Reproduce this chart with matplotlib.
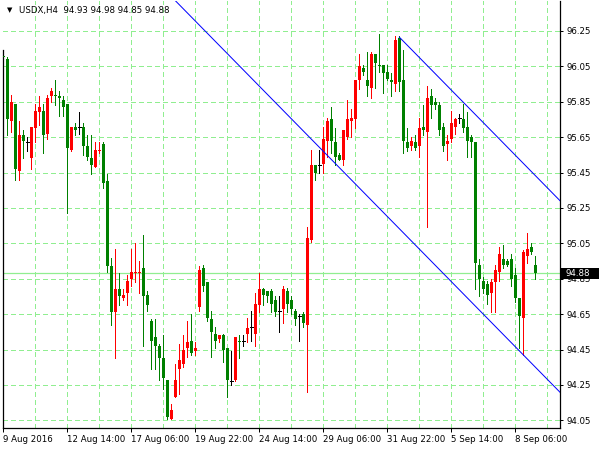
import numpy as np
import matplotlib
matplotlib.use('Agg')
import matplotlib.pyplot as plt
from matplotlib.patches import Rectangle

# USDX H4 candles (bar 0 = left edge)
opens = [96.11, 96.09, 95.74, 95.84, 95.46, 95.66, 95.62, 95.53, 95.70, 95.79,
         95.80, 95.67, 95.88, 95.89, 95.88, 95.86, 95.84, 95.58, 95.71, 95.71,
         95.71, 95.60, 95.53, 95.48, 95.57, 95.61, 95.40, 94.92, 94.66, 94.79,
         94.74, 94.77, 94.85, 94.88, 94.88, 94.91, 94.76, 94.61, 94.52, 94.47,
         94.40, 94.28, 94.06, 94.18, 94.34, 94.37, 94.46, 94.50, 94.44, 94.69,
         94.91, 94.83, 94.62, 94.54, 94.51, 94.53, 94.46, 94.27, 94.28, 94.50,
         94.50, 94.54, 94.58, 94.54, 94.70, 94.79, 94.78, 94.78, 94.73, 94.67,
         94.68, 94.78, 94.73, 94.67, 94.64, 94.65, 94.59, 95.07, 95.49, 95.49,
         95.50, 95.63, 95.75, 95.62, 95.55, 95.52, 95.65, 95.74, 95.75, 95.97,
         96.04, 95.97, 95.93, 96.12, 96.06, 96.06, 96.02, 95.97, 95.95, 96.21,
         95.97, 95.62, 95.60, 95.62, 95.60, 95.71, 95.68, 95.88, 95.85, 95.83,
         95.71, 95.61, 95.64, 95.71, 95.76, 95.75, 95.71, 95.65, 95.62, 94.93,
         94.84, 94.82, 94.77, 94.83, 94.89, 94.96, 94.95, 94.96, 94.87, 94.74,
         94.63, 94.98, 95.03, 94.93]
highs = [96.13, 96.10, 95.89, 95.84, 95.74, 95.69, 95.65, 95.71, 95.84, 95.88,
         95.84, 95.89, 95.93, 95.97, 95.91, 95.88, 95.84, 95.71, 95.73, 95.79,
         95.73, 95.66, 95.66, 95.62, 95.62, 95.62, 95.44, 94.97, 95.02, 94.88,
         94.79, 94.87, 95.02, 95.05, 94.95, 95.10, 94.78, 94.62, 94.62, 94.48,
         94.53, 94.28, 94.14, 94.37, 94.48, 94.53, 94.61, 94.65, 94.49, 94.92,
         94.93, 94.83, 94.67, 94.58, 94.53, 94.54, 94.46, 94.44, 94.52, 94.53,
         94.53, 94.63, 94.67, 94.77, 94.88, 94.80, 94.78, 94.79, 94.75, 94.75,
         94.81, 94.80, 94.75, 94.68, 94.65, 94.66, 95.14, 95.58, 95.49, 95.58,
         95.71, 95.76, 95.82, 95.70, 95.56, 95.69, 95.86, 95.81, 95.97, 96.12,
         96.06, 96.13, 96.13, 96.12, 96.23, 96.06, 96.06, 96.01, 96.22, 96.22,
         96.14, 95.70, 95.65, 95.66, 95.76, 95.83, 95.94, 95.92, 95.87, 95.85,
         95.73, 95.66, 95.80, 95.76, 95.78, 95.84, 95.79, 95.66, 95.62, 94.96,
         94.86, 94.84, 94.85, 94.93, 95.03, 95.04, 94.96, 94.99, 94.91, 94.74,
         95.01, 95.11, 95.05, 94.98]
lows = [96.07, 95.66, 95.68, 95.41, 95.41, 95.53, 95.57, 95.47, 95.62, 95.72,
        95.56, 95.64, 95.85, 95.83, 95.77, 95.77, 95.22, 95.57, 95.66, 95.67,
        95.55, 95.52, 95.44, 95.48, 95.56, 95.36, 94.89, 94.59, 94.40, 94.70,
        94.73, 94.70, 94.81, 94.83, 94.77, 94.47, 94.67, 94.34, 94.34, 94.28,
        94.23, 94.06, 94.06, 94.18, 94.20, 94.35, 94.41, 94.42, 94.42, 94.67,
        94.78, 94.61, 94.41, 94.46, 94.49, 94.38, 94.18, 94.25, 94.27, 94.40,
        94.47, 94.49, 94.50, 94.47, 94.66, 94.70, 94.72, 94.66, 94.64, 94.55,
        94.60, 94.66, 94.65, 94.59, 94.50, 94.58, 94.21, 95.06, 95.41, 95.45,
        95.45, 95.54, 95.56, 95.49, 95.52, 95.49, 95.64, 95.65, 95.70, 95.92,
        96.00, 95.88, 95.87, 95.93, 96.02, 95.90, 95.97, 95.88, 95.91, 95.91,
        95.56, 95.57, 95.58, 95.58, 95.54, 95.66, 95.14, 95.76, 95.81, 95.66,
        95.57, 95.52, 95.62, 95.67, 95.73, 95.68, 95.54, 95.54, 94.79, 94.75,
        94.77, 94.71, 94.66, 94.66, 94.84, 94.91, 94.92, 94.81, 94.72, 94.46,
        94.42, 94.94, 94.99, 94.85]
closes = [96.10, 95.75, 95.85, 95.47, 95.66, 95.63, 95.62, 95.71, 95.80, 95.82,
          95.66, 95.87, 95.91, 95.88, 95.87, 95.82, 95.59, 95.71, 95.69, 95.71,
          95.60, 95.54, 95.49, 95.58, 95.58, 95.39, 94.92, 94.66, 94.79, 94.75,
          94.76, 94.84, 94.89, 94.89, 94.89, 94.75, 94.70, 94.50, 94.47, 94.40,
          94.29, 94.07, 94.11, 94.28, 94.39, 94.45, 94.49, 94.43, 94.46, 94.90,
          94.81, 94.63, 94.55, 94.50, 94.53, 94.45, 94.28, 94.27, 94.52, 94.49,
          94.50, 94.57, 94.58, 94.71, 94.79, 94.76, 94.75, 94.71, 94.66, 94.67,
          94.79, 94.71, 94.68, 94.62, 94.64, 94.60, 95.08, 95.49, 95.45, 95.49,
          95.64, 95.74, 95.63, 95.54, 95.52, 95.69, 95.75, 95.76, 95.97, 96.05,
          96.02, 95.94, 96.12, 96.07, 96.05, 96.01, 95.98, 95.96, 96.20, 95.96,
          95.63, 95.59, 95.63, 95.59, 95.70, 95.69, 95.87, 95.83, 95.83, 95.69,
          95.60, 95.63, 95.73, 95.75, 95.76, 95.70, 95.63, 95.62, 94.94, 94.85,
          94.79, 94.76, 94.83, 94.90, 94.99, 94.93, 94.93, 94.85, 94.74, 94.64,
          95.00, 95.02, 95.00, 94.88]

tick_bars = [0, 16, 32, 48, 64, 80, 96, 112, 128]
tick_labels = ['9 Aug 2016', '12 Aug 14:00', '17 Aug 06:00', '19 Aug 22:00',
               '24 Aug 14:00', '29 Aug 06:00', '31 Aug 22:00', '5 Sep 14:00',
               '8 Sep 06:00']
price_ticks = [96.25, 96.05, 95.85, 95.65, 95.45, 95.25, 95.05, 94.85,
               94.65, 94.45, 94.25, 94.05]
last_price = 94.88
header = 'USDX,H4  94.93 94.98 94.85 94.88'

# channel drawn on the chart: anchor (bar, price) and slope per bar
upper_anchor = (99, 96.215)
lower_anchor = (130, 94.42)
channel_slope = -0.023

GRID = '#90EE90'
BULL = '#FF0000'
BEAR = '#008000'
FS = 6.2
PX = 0.72  # one pixel in points

o = np.array(opens)
h = np.array(highs)
l = np.array(lows)
c = np.array(closes)
idx = np.arange(len(o))

fig = plt.figure(figsize=(6, 4.5), dpi=100)
ax = fig.add_axes([3 / 600, 22 / 450, 557 / 600, 427 / 450])
ax.set_xlim(-0.075, 139.175)
ax.set_ylim(94.007, 96.419)

# grid
for p in price_ticks:
    ax.axhline(p, color=GRID, lw=0.9, ls=(0, (3.2, 2.4)), zorder=0,
               antialiased=False)
for b in range(8, 140, 8):
    ax.axvline(b, color=GRID, lw=0.9, ls=(0, (3.2, 2.4)), zorder=0,
               antialiased=False)
ax.axhline(last_price, color=GRID, lw=0.9, zorder=1)

# candles
cols = np.where(c > o, BULL, np.where(c < o, BEAR, 'black'))
ax.vlines(idx, l, h, colors=cols, lw=PX, zorder=2, antialiased=False)
body = c != o
ax.bar(idx[body], (c - o)[body], bottom=o[body], width=0.65,
       color=cols[body], lw=0, zorder=3, antialiased=False)
flat = ~body
ax.hlines(o[flat], idx[flat] - 0.35, idx[flat] + 0.35, colors='black',
          lw=PX, zorder=3, antialiased=False)

# channel lines
xs = np.array([upper_anchor[0], 145])
ax.plot(xs, upper_anchor[1] + channel_slope * (xs - upper_anchor[0]),
        color='blue', lw=PX, zorder=4)
xs = np.array([30, 145])
ax.plot(xs, lower_anchor[1] + channel_slope * (xs - lower_anchor[0]),
        color='blue', lw=PX, zorder=4)

# frame
ax.spines['top'].set_visible(False)
for s in ['left', 'right', 'bottom']:
    ax.spines[s].set_color('black')
    ax.spines[s].set_linewidth(0.9)
ax.spines['left'].set_bounds(94.007, 96.14)

ax.yaxis.tick_right()
ax.set_yticks(price_ticks)
ax.set_yticklabels(['%.2f' % p for p in price_ticks])
ax.tick_params(axis='y', length=2, width=PX, pad=3, labelsize=FS)
ax.set_xticks(tick_bars)
ax.set_xticklabels(tick_labels)
ax.tick_params(axis='x', length=3, width=PX, pad=2, labelsize=FS)
for lbl in ax.get_xticklabels():
    lbl.set_ha('left')

# current price box on the price scale (covers the 94.85 label as in MT4)
tr = ax.get_yaxis_transform()
ax.add_patch(Rectangle((1.0, last_price - 0.031), 39 / 557, 0.062,
                       transform=tr, fc='black', ec='none', clip_on=False,
                       zorder=10))
ax.text(1.0 + 6 / 557, last_price, '%.2f' % last_price, transform=tr,
        color='white', fontsize=FS, ha='left', va='center', zorder=11,
        clip_on=False)

fig.text(10 / 600, 1 - 10 / 450, '\u25bc', fontsize=5, ha='center', va='center')
fig.text(19 / 600, 1 - 10 / 450, header, fontsize=FS, ha='left', va='center')

fig.savefig('out.png', dpi=100)
